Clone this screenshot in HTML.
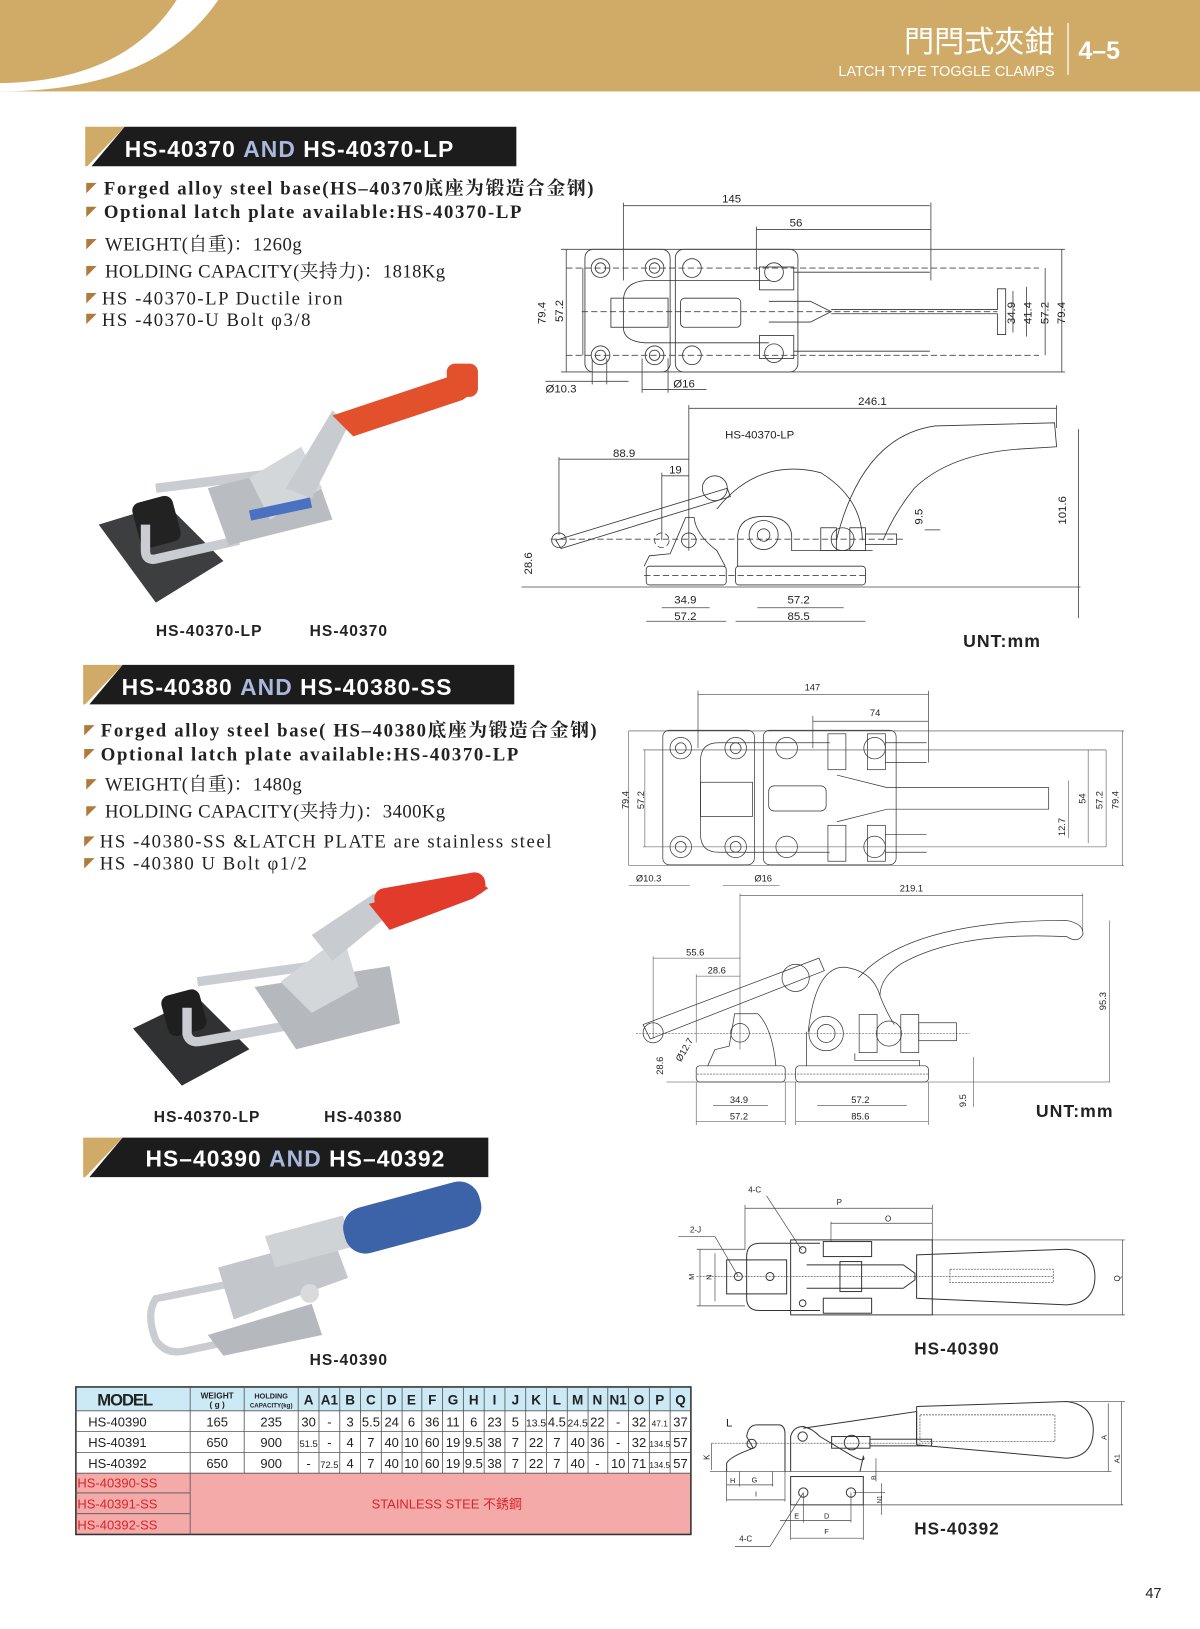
<!DOCTYPE html>
<html><head><meta charset="utf-8"><style>
html,body{margin:0;padding:0;background:#fff;}
svg{display:block;}
.s{font-family:"Liberation Serif","Noto Serif CJK SC",serif;font-weight:bold;font-size:18px;fill:#222;letter-spacing:1.6px;}
.n{font-family:"Liberation Serif","Noto Serif CJK SC",serif;font-size:18px;fill:#222;}
.d{font-family:"Liberation Sans",sans-serif;fill:#222;}
.ln{fill:none;stroke:#333;}
.dim{fill:none;stroke:#444;}
.ds{fill:none;stroke:#444;stroke-dasharray:6 3;}
.lb{font-family:"Liberation Sans",sans-serif;font-weight:bold;fill:#222;letter-spacing:1px;}
.t{font-family:"Liberation Sans",sans-serif;fill:#222;text-anchor:middle;}
.th{font-family:"Liberation Sans",sans-serif;font-weight:bold;fill:#222;text-anchor:middle;}
</style></head><body>
<svg width="1200" height="1629" viewBox="0 0 1155 1568" xmlns="http://www.w3.org/2000/svg">
<!-- header -->
<rect x="0" y="0" width="1155" height="88" fill="#d0aa67"/>
<path d="M0 88 L0 80 Q120 78 170 0 L210 0 Q150 88 0 88Z" fill="#fff"/>
<text x="1015" y="50" text-anchor="end" font-family="Liberation Sans,'Noto Sans CJK TC',sans-serif" font-size="29" fill="#fff">門閂式夾鉗</text>
<text x="1015" y="73" text-anchor="end" font-family="Liberation Sans,sans-serif" font-size="14" fill="#fff">LATCH TYPE TOGGLE CLAMPS</text>
<line x1="1028" y1="22" x2="1028" y2="72" stroke="#fff" stroke-width="1.2"/>
<text x="1038" y="57" font-family="Liberation Sans,sans-serif" font-size="24" font-weight="bold" fill="#fff">4–5</text>

<!-- section headers -->
<g>
<polygon points="82,122 120,122 84,160 82,160" fill="#d0aa67"/>
<polygon points="120,122 497,122 497,160 88,160" fill="#1c1c1c"/>
<text x="120" y="151" font-family="Liberation Sans,sans-serif" font-weight="bold" font-size="22" fill="#fff" letter-spacing="1">HS-40370 <tspan fill="#a9b9dc">AND</tspan> HS-40370-LP</text>
<polygon points="80,640 118,640 82,678 80,678" fill="#d0aa67"/>
<polygon points="118,640 495,640 495,678 86,678" fill="#1c1c1c"/>
<text x="117" y="669" font-family="Liberation Sans,sans-serif" font-weight="bold" font-size="22" fill="#fff" letter-spacing="1">HS-40380 <tspan fill="#a9b9dc">AND</tspan> HS-40380-SS</text>
<polygon points="80,1095 118,1095 82,1133 80,1133" fill="#d0aa67"/>
<polygon points="118,1095 470,1095 470,1133 86,1133" fill="#1c1c1c"/>
<text x="140" y="1123" font-family="Liberation Sans,sans-serif" font-weight="bold" font-size="22" fill="#fff" letter-spacing="1">HS–40390 <tspan fill="#a9b9dc">AND</tspan> HS–40392</text>
</g>

<!-- bullets -->
<g fill="#b07a3a">
<polygon points="83,176 93,176 83,186"/><polygon points="83,199 93,199 83,209"/>
<polygon points="83,230 93,230 83,240"/><polygon points="83,256 93,256 83,266"/>
<polygon points="83,282 93,282 83,292"/><polygon points="83,302 93,302 83,312"/>
<polygon points="81,698 91,698 81,708"/><polygon points="81,721 91,721 81,731"/>
<polygon points="83,750 93,750 83,760"/><polygon points="83,776 93,776 83,786"/>
<polygon points="81,805 91,805 81,815"/><polygon points="81,826 91,826 81,836"/>
</g>
<text x="100" y="187" class="s">Forged alloy steel base(HS–40370底座为锻造合金钢)</text>
<text x="100" y="210" class="s">Optional latch plate available:HS-40370-LP</text>
<text x="101" y="241" class="n" letter-spacing="0.5">WEIGHT(自重)：1260g</text>
<text x="101" y="267" class="n" letter-spacing="0.4">HOLDING CAPACITY(夹持力)：1818Kg</text>
<text x="98" y="293" class="n" letter-spacing="1.5">HS -40370-LP Ductile iron</text>
<text x="98" y="314" class="n" letter-spacing="1.5">HS -40370-U Bolt  φ3/8</text>
<text x="97" y="709" class="s">Forged alloy steel base( HS–40380底座为锻造合金钢)</text>
<text x="97" y="732" class="s">Optional latch plate available:HS-40370-LP</text>
<text x="101" y="761" class="n" letter-spacing="0.5">WEIGHT(自重)：1480g</text>
<text x="101" y="787" class="n" letter-spacing="0.4">HOLDING CAPACITY(夹持力)：3400Kg</text>
<text x="96" y="816" class="n" letter-spacing="1.5">HS -40380-SS &amp;LATCH PLATE are stainless steel</text>
<text x="96" y="837" class="n" letter-spacing="1.5">HS -40380 U Bolt  φ1/2</text>

<!-- photo 1 -->
<g>
<polygon points="95,505 160,485 215,540 150,580" fill="#3c3e40"/>
<rect x="130" y="480" width="40" height="45" rx="8" fill="#222" transform="rotate(-15 150 500)"/>
<path d="M140 505 L140 530 Q140 540 150 538 L230 520" fill="none" stroke="#c9ccd0" stroke-width="9"/>
<path d="M150 470 L270 455" fill="none" stroke="#c9ccd0" stroke-width="9"/>
<polygon points="200,470 300,445 320,500 220,525" fill="#b9bdc2"/>
<polygon points="240,460 290,430 310,470 260,500" fill="#d4d7da"/>
<polygon points="275,470 320,395 335,410 300,480" fill="#c8ccd0"/>
<polygon points="320,400 440,360 460,375 445,385 340,420" fill="#e2502c"/>
<rect x="430" y="350" width="30" height="32" rx="8" fill="#e2502c"/>
<rect x="240" y="485" width="60" height="10" fill="#4a72c0" transform="rotate(-12 270 490)"/>
</g>
<text x="150" y="612" class="lb" font-size="15">HS-40370-LP</text>
<text x="298" y="612" class="lb" font-size="15">HS-40370</text>

<!-- photo 2 -->
<g>
<polygon points="128,990 190,960 240,1010 175,1045" fill="#2f3133"/>
<rect x="158" y="955" width="38" height="40" rx="8" fill="#1f1f1f" transform="rotate(-15 176 975)"/>
<path d="M180 970 L180 995 Q182 1005 195 1002 L290 985" fill="none" stroke="#c9ccd0" stroke-width="9"/>
<path d="M190 945 L300 930" fill="none" stroke="#c9ccd0" stroke-width="9"/>
<polygon points="245,950 375,930 385,985 285,1010" fill="#b5b9be"/>
<polygon points="270,945 330,900 345,950 300,975" fill="#d4d7da"/>
<polygon points="300,900 360,860 375,880 320,925" fill="#c8ccd0"/>
<polygon points="355,870 455,845 470,855 455,865 375,895" fill="#e33b2b"/>
<rect x="360" y="848" width="108" height="22" rx="10" fill="#e33b2b" transform="rotate(-10 410 860)"/>
</g>
<text x="148" y="1080" class="lb" font-size="15">HS-40370-LP</text>
<text x="312" y="1080" class="lb" font-size="15">HS-40380</text>

<!-- photo 3 -->
<g>
<path d="M225 1235 L150 1250 Q140 1265 150 1290 Q160 1305 180 1300 L250 1285" fill="none" stroke="#c9ccd0" stroke-width="7"/>
<polygon points="200,1285 300,1255 310,1285 215,1305" fill="#b5b9be"/>
<polygon points="210,1220 320,1190 335,1230 225,1270" fill="#c3c7cc"/>
<polygon points="255,1190 330,1170 340,1200 265,1220" fill="#d0d3d6"/>
<rect x="330" y="1150" width="135" height="45" rx="20" fill="#3c62a8" transform="rotate(-15 395 1175)"/>
<circle cx="298" cy="1245" r="9" fill="#d8dadc"/>
</g>
<text x="298" y="1314" class="lb" font-size="15">HS-40390</text>

<!-- drawing 1 top -->
<g stroke-width="0.8" font-size="11">
<line x1="600" y1="198" x2="895" y2="198" class="dim"/><line x1="600" y1="195" x2="600" y2="270" class="dim"/><line x1="896" y1="195" x2="896" y2="270" class="dim"/>
<text x="695" y="195" class="d">145</text>
<line x1="728" y1="221" x2="896" y2="221" class="dim"/><line x1="728" y1="218" x2="728" y2="260" class="dim"/>
<text x="760" y="218" class="d">56</text>
<rect x="563" y="240" width="82" height="118" rx="8" class="ln"/>
<rect x="650" y="240" width="118" height="118" rx="8" class="ln"/>
<circle cx="578" cy="258" r="9" class="ln"/><circle cx="578" cy="258" r="5" class="ln"/>
<circle cx="630" cy="258" r="9" class="ln"/><circle cx="630" cy="258" r="5" class="ln"/>
<circle cx="578" cy="342" r="9" class="ln"/><circle cx="578" cy="342" r="5" class="ln"/>
<circle cx="630" cy="342" r="9" class="ln"/><circle cx="630" cy="342" r="5" class="ln"/>
<circle cx="666" cy="258" r="9" class="ln"/><circle cx="666" cy="342" r="9" class="ln"/>
<circle cx="745" cy="262" r="9" class="ln"/><circle cx="745" cy="340" r="9" class="ln"/>
<path d="M740 270 L625 270 Q600 270 600 290 L600 315 Q600 330 625 330 L740 330" class="ln"/>
<rect x="588" y="287" width="55" height="28" class="ln"/>
<rect x="655" y="287" width="58" height="28" rx="4" class="ln"/>
<rect x="731" y="257" width="33" height="22" class="ln"/><rect x="731" y="323" width="33" height="22" class="ln"/>
<path d="M740 290 L780 290 L800 300 L780 310 L740 310" class="ln"/>
<path d="M800 298 L960 298 L960 278 L968 278 L968 322 L960 322 L960 302 L800 302" class="ln"/>
<line x1="764" y1="262" x2="895" y2="262" class="ln"/><line x1="764" y1="338" x2="895" y2="338" class="ln"/>
<line x1="545" y1="258" x2="1000" y2="258" class="ds"/><line x1="545" y1="342" x2="1000" y2="342" class="ds"/>
<line x1="560" y1="300" x2="960" y2="300" class="ds"/>
<line x1="540" y1="240" x2="1025" y2="240" class="dim"/><line x1="540" y1="358" x2="1025" y2="358" class="dim"/>
<line x1="545" y1="240" x2="545" y2="358" class="dim"/><line x1="561" y1="258" x2="561" y2="342" class="dim"/>
<line x1="1022" y1="240" x2="1022" y2="358" class="dim"/><line x1="1006" y1="258" x2="1006" y2="342" class="dim"/>
<line x1="988" y1="276" x2="988" y2="324" class="dim"/><line x1="975" y1="280" x2="975" y2="320" class="dim"/>
<text transform="translate(525 312) rotate(-90)" class="d">79.4</text>
<text transform="translate(542 310) rotate(-90)" class="d">57.2</text>
<text transform="translate(977 312) rotate(-90)" class="d">34.9</text>
<text transform="translate(993 312) rotate(-90)" class="d">41.4</text>
<text transform="translate(1009 312) rotate(-90)" class="d">57.2</text>
<text transform="translate(1025 312) rotate(-90)" class="d">79.4</text>
<line x1="525" y1="367" x2="605" y2="367" class="dim"/><line x1="570" y1="345" x2="570" y2="370" class="dim"/><line x1="584" y1="345" x2="584" y2="370" class="dim"/>
<text x="525" y="378" class="d">Ø10.3</text>
<line x1="618" y1="375" x2="680" y2="375" class="dim"/><line x1="618" y1="345" x2="618" y2="378" class="dim"/><line x1="643" y1="345" x2="643" y2="378" class="dim"/>
<text x="648" y="373" class="d">Ø16</text>
</g>

<!-- drawing 1 side -->
<g stroke-width="0.8" font-size="11">
<line x1="663" y1="393" x2="1017" y2="393" class="dim"/><line x1="663" y1="390" x2="663" y2="530" class="dim"/><line x1="1017" y1="390" x2="1017" y2="412" class="dim"/>
<text x="826" y="390" class="d">246.1</text>
<text x="698" y="422" class="d">HS-40370-LP</text>
<line x1="538" y1="442" x2="663" y2="442" class="dim"/><line x1="538" y1="440" x2="538" y2="515" class="dim"/>
<text x="590" y="440" class="d">88.9</text>
<line x1="637" y1="458" x2="663" y2="458" class="dim"/><line x1="637" y1="455" x2="637" y2="520" class="dim"/>
<text x="644" y="456" class="d">19</text>
<line x1="1038" y1="413" x2="1038" y2="595" class="dim"/>
<text transform="translate(1026 505) rotate(-90)" class="d">101.6</text>
<text transform="translate(888 505) rotate(-90)" class="d">9.5</text>
<line x1="890" y1="510" x2="905" y2="510" class="dim"/>
<path d="M805 520 Q830 420 900 410 L1015 407 L1017 430 L985 432 Q915 436 880 470 Q860 495 850 520" class="ln"/>
<path d="M690 490 Q730 440 790 455 Q830 480 830 520" class="ln"/>
<circle cx="688" cy="470" r="12" class="ln"/>
<path d="M535 520 L700 470 L703 478 L540 528Z" class="ln"/>
<circle cx="538" cy="520" r="7" class="ln"/>
<line x1="530" y1="519" x2="870" y2="519" class="ds"/>
<circle cx="663" cy="520" r="7" class="ln"/><circle cx="637" cy="520" r="7" class="ds"/>
<circle cx="735" cy="515" r="14" class="ln"/><circle cx="735" cy="515" r="6" class="ln"/>
<path d="M710 545 L710 515 Q712 497 735 497 Q760 497 762 515 L762 530 L840 530" class="ln"/>
<rect x="790" y="508" width="15" height="22" class="ln"/><rect x="818" y="508" width="15" height="22" class="ln"/>
<circle cx="811" cy="519" r="11" class="ln"/>
<rect x="833" y="514" width="30" height="10" class="ln"/>
<path d="M620 545 L625 535 L645 533 Q655 510 660 498 L668 498 Q670 515 690 530 L698 545" class="ln"/>
<rect x="622" y="545" width="77" height="18" rx="3" class="ln"/>
<rect x="708" y="545" width="125" height="18" rx="3" class="ln"/>
<line x1="620" y1="554" x2="835" y2="554" class="ds"/>
<line x1="502" y1="565" x2="1040" y2="565" class="dim"/>
<text transform="translate(512 553) rotate(-90)" class="d">28.6</text>
<line x1="637" y1="585" x2="683" y2="585" class="dim"/><line x1="622" y1="598" x2="699" y2="598" class="dim"/>
<line x1="729" y1="585" x2="812" y2="585" class="dim"/><line x1="708" y1="598" x2="833" y2="598" class="dim"/>
<text x="649" y="581" class="d">34.9</text><text x="649" y="597" class="d">57.2</text>
<text x="758" y="581" class="d">57.2</text><text x="758" y="597" class="d">85.5</text>
</g>
<text x="927" y="623" class="lb" font-size="17">UNT:mm</text>

<!-- drawing 2 -->
<g transform="translate(577.5 654.5) scale(0.3455)" stroke-width="2" font-size="26">
<line x1="273" y1="40" x2="915" y2="40" class="dim"/><line x1="273" y1="30" x2="273" y2="190" class="dim"/><line x1="915" y1="30" x2="915" y2="230" class="dim"/>
<text x="570" y="30" class="d">147</text>
<line x1="593" y1="115" x2="915" y2="115" class="dim"/><line x1="593" y1="100" x2="593" y2="190" class="dim"/>
<text x="752" y="100" class="d">74</text>
<rect x="175" y="140" width="255" height="375" rx="18" class="ln"/>
<rect x="455" y="140" width="370" height="375" rx="18" class="ln"/>
<circle cx="225" cy="190" r="30" class="ln"/><circle cx="378" cy="190" r="30" class="ln"/>
<circle cx="225" cy="465" r="30" class="ln"/><circle cx="378" cy="465" r="30" class="ln"/>
<circle cx="520" cy="190" r="30" class="ln"/><circle cx="520" cy="465" r="30" class="ln"/>
<circle cx="765" cy="190" r="30" class="ln"/><circle cx="765" cy="465" r="30" class="ln"/>
<circle cx="225" cy="190" r="15" class="ln"/><circle cx="378" cy="190" r="15" class="ln"/>
<circle cx="225" cy="465" r="15" class="ln"/><circle cx="378" cy="465" r="15" class="ln"/>
<path d="M640 175 L330 175 Q280 175 280 225 L280 430 Q280 480 330 480 L640 480" class="ln"/>
<rect x="280" y="285" width="145" height="95" class="ln"/>
<rect x="470" y="295" width="160" height="70" rx="15" class="ln"/>
<rect x="635" y="150" width="50" height="100" class="ln"/><rect x="635" y="405" width="50" height="100" class="ln"/>
<rect x="745" y="150" width="50" height="100" class="ln"/><rect x="745" y="405" width="50" height="100" class="ln"/>
<line x1="795" y1="175" x2="910" y2="175" class="ln"/><line x1="795" y1="230" x2="910" y2="230" class="ln"/>
<line x1="795" y1="430" x2="910" y2="430" class="ln"/><line x1="795" y1="480" x2="910" y2="480" class="ln"/>
<path d="M660 265 L800 300 L1250 300 L1250 360 L800 360 L660 395" class="ln"/>
<line x1="120" y1="195" x2="1410" y2="195" class="dim" stroke-width="1.5"/><line x1="120" y1="465" x2="1410" y2="465" class="dim" stroke-width="1.5"/>
<line x1="80" y1="142" x2="1460" y2="142" class="dim" stroke-width="1.5"/><line x1="80" y1="517" x2="1460" y2="517" class="dim" stroke-width="1.5"/>
<line x1="80" y1="142" x2="80" y2="517" class="dim" stroke-width="1.5"/><line x1="125" y1="195" x2="125" y2="465" class="dim" stroke-width="1.5"/>
<line x1="1455" y1="142" x2="1455" y2="517" class="dim" stroke-width="1.5"/><line x1="1410" y1="195" x2="1410" y2="465" class="dim" stroke-width="1.5"/>
<line x1="1360" y1="195" x2="1360" y2="455" class="dim" stroke-width="1.5"/><line x1="1305" y1="280" x2="1305" y2="440" class="dim" stroke-width="1.5"/>
<text transform="translate(80 360) rotate(-90)" class="d">79.4</text>
<text transform="translate(122 360) rotate(-90)" class="d">57.2</text>
<text transform="translate(1296 435) rotate(-90)" class="d">12.7</text>
<text transform="translate(1352 345) rotate(-90)" class="d">54</text>
<text transform="translate(1400 360) rotate(-90)" class="d">57.2</text>
<text transform="translate(1445 360) rotate(-90)" class="d">79.4</text>
<line x1="80" y1="572" x2="250" y2="572" class="dim" stroke-width="1.5"/>
<text x="100" y="562" class="d">Ø10.3</text>
<line x1="342" y1="572" x2="500" y2="572" class="dim" stroke-width="1.5"/>
<text x="430" y="562" class="d">Ø16</text>

<line x1="390" y1="600" x2="1345" y2="600" class="dim" stroke-width="1.5"/><line x1="390" y1="595" x2="390" y2="1030" class="dim" stroke-width="1.5"/><line x1="1345" y1="595" x2="1345" y2="700" class="dim" stroke-width="1.5"/>
<text x="835" y="590" class="d">219.1</text>
<line x1="148" y1="775" x2="390" y2="775" class="dim" stroke-width="1.5"/><line x1="148" y1="770" x2="148" y2="1000" class="dim" stroke-width="1.5"/>
<text x="240" y="768" class="d">55.6</text>
<line x1="268" y1="825" x2="390" y2="825" class="dim" stroke-width="1.5"/><line x1="268" y1="820" x2="268" y2="1010" class="dim" stroke-width="1.5"/>
<text x="300" y="818" class="d">28.6</text>
<path d="M720 830 Q860 670 1300 670 Q1350 680 1345 710 Q1330 735 1300 715 Q1000 700 840 790 Q780 830 780 880" class="ln"/>
<path d="M580 980 Q600 800 680 800 Q760 810 780 880 Q800 930 820 960" class="ln"/>
<path d="M120 960 L610 775 L625 810 L140 1000Z" class="ln"/>
<circle cx="148" cy="983" r="28" class="ln"/>
<circle cx="545" cy="830" r="38" class="ln"/>
<circle cx="390" cy="983" r="26" class="ln"/>
<circle cx="630" cy="985" r="48" class="ln"/><circle cx="630" cy="985" r="25" class="ln"/>
<rect x="722" y="932" width="50" height="106" class="ln"/><rect x="838" y="932" width="50" height="106" class="ln"/>
<circle cx="805" cy="985" r="35" class="ln"/>
<rect x="888" y="955" width="105" height="50" class="ln"/>
<line x1="100" y1="985" x2="1030" y2="985" class="ds" stroke-width="1.5"/>
<path d="M300 1075 L320 1030 L360 1020 L375 930 L440 930 Q480 970 490 1075" class="ln"/>
<rect x="268" y="1075" width="248" height="45" rx="10" class="ln"/>
<rect x="545" y="1075" width="370" height="45" rx="10" class="ln"/>
<path d="M575 1075 L575 980 M710 1040 L710 1060 L890 1060 L890 1075" class="ln"/>
<line x1="270" y1="1098" x2="915" y2="1098" class="ds" stroke-width="1.5"/>
<line x1="185" y1="1120" x2="1420" y2="1120" class="dim" stroke-width="1.5"/>
<line x1="1420" y1="670" x2="1420" y2="1120" class="dim" stroke-width="1.5"/>
<text transform="translate(1410 920) rotate(-90)" class="d">95.3</text>
<line x1="1040" y1="1050" x2="1040" y2="1190" class="dim" stroke-width="1.5"/>
<text transform="translate(1020 1190) rotate(-90)" class="d">9.5</text>
<text transform="translate(175 1100) rotate(-90)" class="d">28.6</text>
<text transform="translate(225 1065) rotate(-60)" class="d">Ø12.7</text>
<line x1="315" y1="1185" x2="468" y2="1185" class="dim" stroke-width="1.5"/><line x1="268" y1="1230" x2="516" y2="1230" class="dim" stroke-width="1.5"/>
<line x1="605" y1="1185" x2="855" y2="1185" class="dim" stroke-width="1.5"/><line x1="545" y1="1230" x2="915" y2="1230" class="dim" stroke-width="1.5"/>
<line x1="268" y1="1120" x2="268" y2="1240" class="dim" stroke-width="1.5"/><line x1="516" y1="1120" x2="516" y2="1240" class="dim" stroke-width="1.5"/>
<line x1="545" y1="1120" x2="545" y2="1240" class="dim" stroke-width="1.5"/><line x1="915" y1="1120" x2="915" y2="1240" class="dim" stroke-width="1.5"/>
<text x="362" y="1178" class="d">34.9</text><text x="362" y="1225" class="d">57.2</text>
<text x="700" y="1178" class="d">57.2</text><text x="700" y="1225" class="d">85.6</text>
</g>
<text x="997" y="1075" class="lb" font-size="17">UNT:mm</text>

<!-- drawing 3 & 4 -->
<g transform="translate(596.75 1126.1) scale(0.3208)" stroke-width="3" font-size="24">
<text x="385" y="68" class="d">4-C</text>
<text x="210" y="188" class="d">2-J</text>
<text x="650" y="105" class="d">P</text>
<text x="795" y="155" class="d">O</text>
<line x1="375" y1="115" x2="937" y2="115" class="dim" stroke-width="2"/><line x1="633" y1="160" x2="937" y2="160" class="dim" stroke-width="2"/>
<line x1="375" y1="105" x2="375" y2="240" class="dim" stroke-width="2"/><line x1="937" y1="105" x2="937" y2="215" class="dim" stroke-width="2"/><line x1="633" y1="155" x2="633" y2="215" class="dim" stroke-width="2"/>
<line x1="440" y1="78" x2="545" y2="240" class="dim" stroke-width="2"/>
<line x1="175" y1="200" x2="285" y2="200" class="dim" stroke-width="2"/><line x1="285" y1="200" x2="355" y2="320" class="dim" stroke-width="2"/>
<path d="M600 220 L420 220 Q380 220 380 260 L380 385 Q380 422 420 422 L600 422" class="ln"/>
<rect x="320" y="270" width="180" height="102" class="ln"/>
<rect x="512" y="210" width="425" height="225" class="ln"/>
<circle cx="355" cy="320" r="12" class="ln"/><circle cx="450" cy="320" r="12" class="ln"/>
<circle cx="548" cy="240" r="10" class="ln"/><circle cx="548" cy="400" r="10" class="ln"/>
<rect x="610" y="215" width="145" height="45" class="ln"/><rect x="610" y="385" width="145" height="45" class="ln"/>
<rect x="660" y="275" width="65" height="90" class="ln"/>
<path d="M560 285 L850 285 L885 310 L885 330 L850 355 L560 355" class="ln"/>
<path d="M890 255 L1340 238 Q1425 245 1425 320 Q1425 400 1340 405 L890 385Z" class="ln"/>
<rect x="990" y="298" width="310" height="40" class="ds" stroke-width="2"/>
<line x1="230" y1="320" x2="1300" y2="320" class="ds" stroke-width="2"/>
<line x1="230" y1="238" x2="375" y2="238" class="dim" stroke-width="2"/><line x1="230" y1="408" x2="375" y2="408" class="dim" stroke-width="2"/>
<line x1="240" y1="238" x2="240" y2="408" class="dim" stroke-width="2"/><line x1="285" y1="250" x2="285" y2="395" class="dim" stroke-width="2"/>
<text transform="translate(222 330) rotate(-90)" class="d" font-size="22">M</text>
<text transform="translate(275 330) rotate(-90)" class="d" font-size="22">N</text>
<line x1="937" y1="210" x2="1515" y2="210" class="dim" stroke-width="2"/><line x1="937" y1="435" x2="1515" y2="435" class="dim" stroke-width="2"/>
<line x1="1508" y1="210" x2="1508" y2="435" class="dim" stroke-width="2"/>
<text transform="translate(1500 335) rotate(-90)" class="d">Q</text>

<text x="318" y="770" class="d" font-size="34">L</text>
<path d="M320 905 L320 880 Q330 860 400 835 L380 800 Q385 765 410 765 L480 765 Q495 770 495 790 L495 905" class="ln"/>
<circle cx="395" cy="822" r="14" class="ln"/>
<path d="M512 905 L512 800 Q520 770 550 770 Q575 775 600 800 L700 860 Q740 880 730 860 L720 905" class="ln"/>
<circle cx="548" cy="800" r="14" class="ln"/>
<path d="M550 775 L890 725 L890 820" class="ln"/>
<path d="M890 710 L1340 695 Q1420 705 1420 780 Q1420 860 1340 865 L890 825" class="ln"/>
<path d="M890 710 L890 825" class="ln"/>
<rect x="900" y="735" width="405" height="80" class="ds" stroke-width="2"/>
<rect x="635" y="800" width="115" height="35" class="ln"/>
<circle cx="695" cy="818" r="22" class="ln"/>
<rect x="750" y="808" width="185" height="20" class="ln"/>
<line x1="275" y1="820" x2="940" y2="820" class="ds" stroke-width="2"/>
<line x1="270" y1="905" x2="1475" y2="905" class="dim" stroke-width="2"/>
<line x1="275" y1="820" x2="275" y2="900" class="dim" stroke-width="2"/>
<text transform="translate(268 870) rotate(-90)" class="d">K</text>
<line x1="320" y1="945" x2="460" y2="945" class="dim" stroke-width="2"/><line x1="320" y1="990" x2="495" y2="990" class="dim" stroke-width="2"/>
<line x1="320" y1="905" x2="320" y2="995" class="dim" stroke-width="2"/><line x1="495" y1="905" x2="495" y2="995" class="dim" stroke-width="2"/><line x1="358" y1="905" x2="358" y2="950" class="dim" stroke-width="2"/><line x1="458" y1="905" x2="458" y2="950" class="dim" stroke-width="2"/>
<text x="330" y="940" class="d" font-size="22">H</text><text x="395" y="938" class="d" font-size="22">G</text><text x="405" y="980" class="d" font-size="22">I</text>
<rect x="512" y="920" width="218" height="85" class="ln"/>
<circle cx="550" cy="968" r="14" class="ln"/><circle cx="693" cy="968" r="14" class="ln"/>
<line x1="480" y1="1052" x2="693" y2="1052" class="dim" stroke-width="2"/><line x1="512" y1="1105" x2="730" y2="1105" class="dim" stroke-width="2"/>
<line x1="512" y1="1005" x2="512" y2="1110" class="dim" stroke-width="2"/><line x1="730" y1="1005" x2="730" y2="1110" class="dim" stroke-width="2"/><line x1="693" y1="968" x2="693" y2="1058" class="dim" stroke-width="2"/><line x1="550" y1="968" x2="550" y2="1058" class="dim" stroke-width="2"/>
<text x="523" y="1046" class="d" font-size="22">E</text><text x="612" y="1046" class="d" font-size="22">D</text><text x="613" y="1092" class="d" font-size="22">F</text>
<line x1="550" y1="968" x2="450" y2="1130" class="dim" stroke-width="2"/><line x1="345" y1="1130" x2="450" y2="1130" class="dim" stroke-width="2"/>
<text x="358" y="1115" class="d">4-C</text>
<line x1="768" y1="865" x2="768" y2="935" class="dim" stroke-width="2"/>
<text transform="translate(768 930) rotate(-90)" class="d" font-size="20">B</text>
<line x1="785" y1="940" x2="785" y2="1035" class="dim" stroke-width="2"/><line x1="700" y1="968" x2="795" y2="968" class="dim" stroke-width="2"/>
<text transform="translate(784 1000) rotate(-90)" class="d" font-size="18">N1</text>
<line x1="730" y1="1005" x2="1510" y2="1005" class="dim" stroke-width="2"/>
<line x1="1340" y1="695" x2="1515" y2="695" class="dim" stroke-width="2"/>
<line x1="1465" y1="700" x2="1465" y2="905" class="dim" stroke-width="2"/><line x1="1505" y1="695" x2="1505" y2="1005" class="dim" stroke-width="2"/>
<text transform="translate(1460 810) rotate(-90)" class="d" font-size="22">A</text>
<text transform="translate(1498 880) rotate(-90)" class="d" font-size="22">A1</text>
</g>
<text x="880" y="1304" class="lb" font-size="16.5">HS-40390</text>
<text x="880" y="1477" class="lb" font-size="16.5">HS-40392</text>

<!-- table -->
<g>
<rect x="73" y="1335" width="592" height="23" fill="#cce9f6"/>
<rect x="73" y="1418" width="592" height="59" fill="#f5aaaa"/>
<g stroke="#555" stroke-width="0.8" fill="none">
<rect x="73" y="1335" width="592" height="142" stroke="#333" stroke-width="1.5"/>
<line x1="73" y1="1358" x2="665" y2="1358"/><line x1="73" y1="1378" x2="665" y2="1378"/>
<line x1="73" y1="1398" x2="665" y2="1398"/><line x1="73" y1="1418" x2="665" y2="1418"/>
<line x1="73" y1="1437" x2="183" y2="1437"/><line x1="73" y1="1457" x2="183" y2="1457"/>
<line x1="183" y1="1335" x2="183" y2="1477"/><line x1="235" y1="1335" x2="235" y2="1418"/><line x1="287" y1="1335" x2="287" y2="1418"/>
<line x1="307" y1="1335" x2="307" y2="1418"/><line x1="327" y1="1335" x2="327" y2="1418"/><line x1="347" y1="1335" x2="347" y2="1418"/>
<line x1="367" y1="1335" x2="367" y2="1418"/><line x1="387" y1="1335" x2="387" y2="1418"/><line x1="406" y1="1335" x2="406" y2="1418"/>
<line x1="426" y1="1335" x2="426" y2="1418"/><line x1="446" y1="1335" x2="446" y2="1418"/><line x1="466" y1="1335" x2="466" y2="1418"/>
<line x1="486" y1="1335" x2="486" y2="1418"/><line x1="506" y1="1335" x2="506" y2="1418"/><line x1="526" y1="1335" x2="526" y2="1418"/>
<line x1="546" y1="1335" x2="546" y2="1418"/><line x1="566" y1="1335" x2="566" y2="1418"/><line x1="585" y1="1335" x2="585" y2="1418"/>
<line x1="605" y1="1335" x2="605" y2="1418"/><line x1="625" y1="1335" x2="625" y2="1418"/><line x1="645" y1="1335" x2="645" y2="1418"/>
</g>
<text x="120" y="1353" class="th" font-size="16" letter-spacing="-1">MODEL</text>
<text x="209" y="1346" class="th" font-size="8">WEIGHT</text><text x="209" y="1355" class="th" font-size="8">( g )</text>
<text x="261" y="1346" class="th" font-size="7">HOLDING</text><text x="261" y="1355" class="th" font-size="6">CAPACITY(kg)</text>
<g class="th" font-size="13">
<text x="297" y="1352">A</text><text x="317" y="1352">A1</text><text x="337" y="1352">B</text><text x="357" y="1352">C</text><text x="377" y="1352">D</text><text x="396" y="1352">E</text><text x="416" y="1352">F</text><text x="436" y="1352">G</text><text x="456" y="1352">H</text><text x="476" y="1352">I</text><text x="496" y="1352">J</text><text x="516" y="1352">K</text><text x="536" y="1352">L</text><text x="556" y="1352">M</text><text x="575" y="1352">N</text><text x="595" y="1352">N1</text><text x="615" y="1352">O</text><text x="635" y="1352">P</text><text x="655" y="1352">Q</text>
</g>
<g class="t" font-size="12.5">
<text x="113" y="1373">HS-40390</text><text x="209" y="1373">165</text><text x="261" y="1373">235</text>
<text x="297" y="1373">30</text><text x="317" y="1373">-</text><text x="337" y="1373">3</text><text x="357" y="1373">5.5</text><text x="377" y="1373">24</text><text x="396" y="1373">6</text><text x="416" y="1373">36</text><text x="436" y="1373">11</text><text x="456" y="1373">6</text><text x="476" y="1373">23</text><text x="496" y="1373">5</text><text x="516" y="1373" font-size="10">13.5</text><text x="536" y="1373">4.5</text><text x="556" y="1373" font-size="10">24.5</text><text x="575" y="1373">22</text><text x="595" y="1373">-</text><text x="615" y="1373">32</text><text x="635" y="1373" font-size="8">47.1</text><text x="655" y="1373">37</text>
<text x="113" y="1393">HS-40391</text><text x="209" y="1393">650</text><text x="261" y="1393">900</text>
<text x="297" y="1393" font-size="9">51.5</text><text x="317" y="1393">-</text><text x="337" y="1393">4</text><text x="357" y="1393">7</text><text x="377" y="1393">40</text><text x="396" y="1393">10</text><text x="416" y="1393">60</text><text x="436" y="1393">19</text><text x="456" y="1393">9.5</text><text x="476" y="1393">38</text><text x="496" y="1393">7</text><text x="516" y="1393">22</text><text x="536" y="1393">7</text><text x="556" y="1393">40</text><text x="575" y="1393">36</text><text x="595" y="1393">-</text><text x="615" y="1393">32</text><text x="635" y="1393" font-size="8">134.5</text><text x="655" y="1393">57</text>
<text x="113" y="1413">HS-40392</text><text x="209" y="1413">650</text><text x="261" y="1413">900</text>
<text x="297" y="1413">-</text><text x="317" y="1413" font-size="9">72.5</text><text x="337" y="1413">4</text><text x="357" y="1413">7</text><text x="377" y="1413">40</text><text x="396" y="1413">10</text><text x="416" y="1413">60</text><text x="436" y="1413">19</text><text x="456" y="1413">9.5</text><text x="476" y="1413">38</text><text x="496" y="1413">7</text><text x="516" y="1413">22</text><text x="536" y="1413">7</text><text x="556" y="1413">40</text><text x="575" y="1413">-</text><text x="595" y="1413">10</text><text x="615" y="1413">71</text><text x="635" y="1413" font-size="8">134.5</text><text x="655" y="1413">57</text>
</g>
<g class="t" font-size="12.5">
<text x="113" y="1432" style="fill:#d8252a">HS-40390-SS</text>
<text x="113" y="1452" style="fill:#d8252a">HS-40391-SS</text>
<text x="113" y="1472" style="fill:#d8252a">HS-40392-SS</text>
<text x="430" y="1452" style="fill:#d8252a;font-family:'Liberation Sans','Noto Sans CJK TC',sans-serif">STAINLESS STEE 不銹鋼</text>
</g>
</g>

<text x="1118" y="1538" text-anchor="end" font-family="Liberation Sans,sans-serif" font-size="14" fill="#222">47</text>
</svg>
</body></html>
